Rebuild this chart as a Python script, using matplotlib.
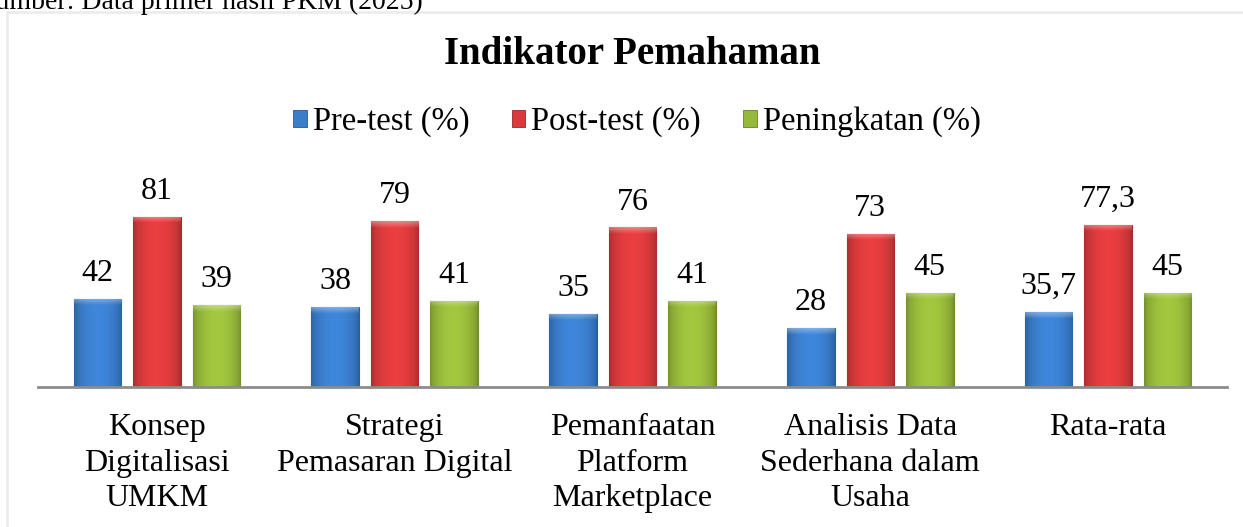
import matplotlib.pyplot as plt
import numpy as np
from matplotlib.colors import to_rgb
from matplotlib.lines import Line2D
from matplotlib.patches import Patch

plt.rcParams['font.family'] = ['Liberation Serif', 'DejaVu Serif']

# data
categories = ['Konsep\nDigitalisasi\nUMKM', 'Strategi\nPemasaran Digital',
              'Pemanfaatan\nPlatform\nMarketplace', 'Analisis Data\nSederhana dalam\nUsaha',
              'Rata-rata']
pre_test = [42, 38, 35, 28, 35.7]
post_test = [81, 79, 76, 73, 77.3]
peningkatan = [39, 41, 41, 45, 45]
series_names = ['Pre-test (%)', 'Post-test (%)', 'Peningkatan (%)']
colors = ['#3a7dcb', '#d93a3c', '#97b93a']

W, H = 1243, 527
fig = plt.figure(figsize=(W / 100, H / 100), dpi=100)
ax = fig.add_axes([38 / W, (H - 387) / H, (1227 - 38) / W, 210 / H])


def shaded(ax, bars, color):
    # simple bevel look: darker sides, light top cap
    c = np.array(to_rgb(color))
    n = 60
    t = np.linspace(0, 1, n)
    prof = 0.78 + 0.3 * np.sin(np.pi * t) ** 0.6
    for b in bars:
        x0, h, w = b.get_x(), b.get_height(), b.get_width()
        rows = 200
        img = np.clip(c[None, None, :] * prof[None, :, None] * np.ones((rows, 1, 1)), 0, 1)
        cap = max(1, int(rows * 3.2 / h))
        for i in range(cap):
            k = 0.35 * (1 - i / cap)
            img[i] = img[i] * (1 - k) + k
        im = ax.imshow(img, extent=(x0, x0 + w, 0, h), aspect='auto', zorder=3,
                       interpolation='bilinear')
        im.set_clip_path(b)
        b.set_facecolor('none')
        b.set_edgecolor(c * 0.75)
        b.set_linewidth(0.8)


x = np.arange(len(categories))
off = 0.25
wid = 0.2
for vals, name, col, dx in zip([pre_test, post_test, peningkatan], series_names, colors, [-off, 0, off]):
    bars = ax.bar(x + dx, vals, wid, color=col, zorder=2)
    shaded(ax, bars, col)
    for xi, v in zip(x + dx, vals):
        ax.text(xi, v + 8.5, f'{v:g}'.replace('.', ','), ha='center', va='baseline', fontsize=23)

ax.set_xlim(-0.5, 4.5)
ax.set_ylim(0, 100)
ax.set_xticks(x)
ax.set_xticklabels(categories, fontsize=23, linespacing=1.28)
ax.tick_params(axis='x', length=0, pad=19)
ax.set_yticks([])
for s in ['top', 'right', 'left']:
    ax.spines[s].set_visible(False)
ax.spines['bottom'].set_color('#8c8c8c')
ax.spines['bottom'].set_linewidth(2)
ax.spines['bottom'].set_zorder(5)

handles = [Patch(facecolor=c, edgecolor=np.array(to_rgb(c)) * 0.7, lw=0.6) for c in colors]
fig.legend(handles, series_names, loc='center', bbox_to_anchor=(637 / W, 1 - 122 / H), ncol=3,
           frameon=False, fontsize=23.5, handlelength=0.42, handleheight=0.42,
           handletextpad=0.18, columnspacing=1.3)

fig.text(632 / W, 1 - 55 / H, 'Indikator Pemahaman', ha='center', va='center',
         fontsize=28, fontweight='bold')
fig.text(-20 / W, 1 - 9 / H, 'Sumber: Data primer hasil PKM (2025)', ha='left',
         va='baseline', fontsize=20)

# light frame of the chart area (cut off at right and bottom)
fig.add_artist(Line2D([7 / W, 7 / W], [0, 1 - 12 / H], color='#ececec', lw=2))
fig.add_artist(Line2D([7 / W, 1], [1 - 12 / H, 1 - 12 / H], color='#ececec', lw=2))

fig.savefig('out.png', dpi=100)
